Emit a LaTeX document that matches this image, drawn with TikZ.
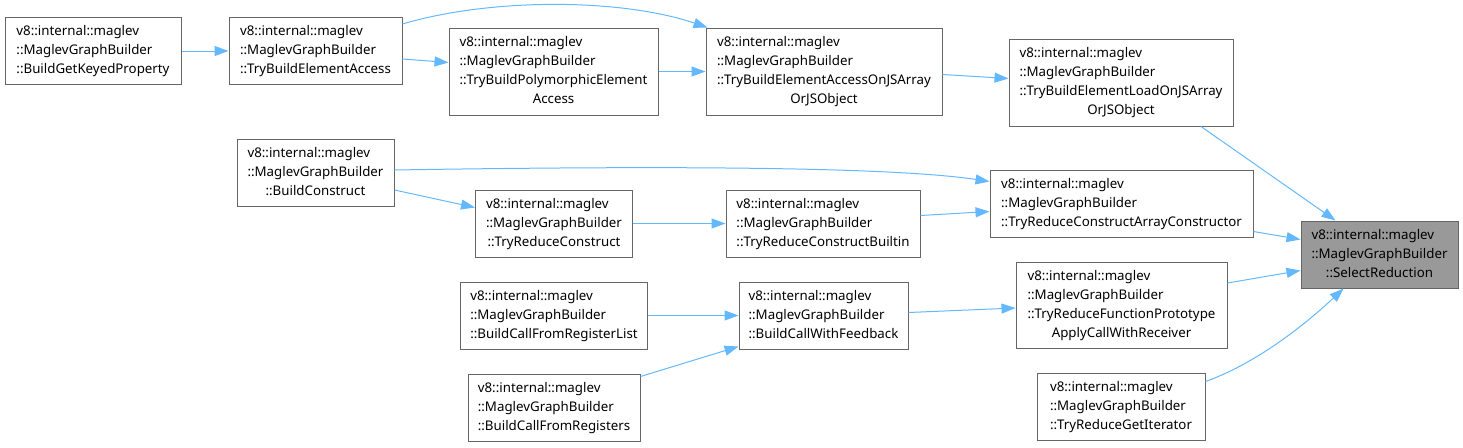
\documentclass[tikz,border=0pt]{standalone}
\usepackage{fontspec}
\setmainfont{Noto Sans}
\usepackage{tikz}
\usetikzlibrary{arrows.meta, calc}
\usepackage{xcolor}
\definecolor{DoxEdge}{HTML}{63B8FF}
\definecolor{DoxBorder}{HTML}{666666}
\definecolor{DoxFocus}{HTML}{999999}
\definecolor{DoxWhite}{HTML}{ffffff}
% left-aligned lines, last line centred
\newcommand{\fnlabel}[2]{\begin{tabular}{@{}l@{}}#1\\\multicolumn{1}{@{}c@{}}{#2}\end{tabular}}
\tikzset{
    % Node styles
    funcbox/.style={
        rectangle,
        draw=DoxBorder,
        fill=DoxWhite,
        line width=1pt,
        inner sep=0pt,
        minimum height=67,
        font=\fontsize{13.3}{19}\selectfont
    },
    focusbox/.style={
        funcbox,
        fill=DoxFocus
    },
    % Arrow styles
    callarrow/.style={
        draw=DoxEdge,
        line width=1pt,
        -{Triangle[length=14pt,width=10pt]}
    }
}

\begin{document}
\begin{tikzpicture}[x=1pt, y=-1pt]
    \useasboundingbox (0,0) rectangle (1463,447);

    % Element access chain
    \node[funcbox, minimum width=176] (getkeyed) at (93,51) {\fnlabel{v8::internal::maglev\\::MaglevGraphBuilder}{::BuildGetKeyedProperty}};
    \node[funcbox, minimum width=173] (elemaccess) at (315.5,51) {\fnlabel{v8::internal::maglev\\::MaglevGraphBuilder}{::TryBuildElementAccess}};
    \node[funcbox, minimum width=209, minimum height=87] (polyaccess) at (553.5,71.5) {\fnlabel{v8::internal::maglev\\::MaglevGraphBuilder\\::TryBuildPolymorphicElement}{Access}};
    \node[funcbox, minimum width=236, minimum height=87] (accessjs) at (824,71.5) {\fnlabel{v8::internal::maglev\\::MaglevGraphBuilder\\::TryBuildElementAccessOnJSArray}{OrJSObject}};
    \node[funcbox, minimum width=224, minimum height=87] (loadjs) at (1121,82.5) {\fnlabel{v8::internal::maglev\\::MaglevGraphBuilder\\::TryBuildElementLoadOnJSArray}{OrJSObject}};

    % Construct chain
    \node[funcbox, minimum width=157] (construct) at (315.5,173) {\fnlabel{v8::internal::maglev\\::MaglevGraphBuilder}{::BuildConstruct}};
    \node[funcbox, minimum width=157] (reduceconstruct) at (554,223.5) {\fnlabel{v8::internal::maglev\\::MaglevGraphBuilder}{::TryReduceConstruct}};
    \node[funcbox, minimum width=194] (constructbuiltin) at (823,223.5) {\fnlabel{v8::internal::maglev\\::MaglevGraphBuilder}{::TryReduceConstructBuiltin}};
    \node[funcbox, minimum width=263] (arrayctor) at (1121.5,203.5) {\fnlabel{v8::internal::maglev\\::MaglevGraphBuilder}{::TryReduceConstructArrayConstructor}};

    % Target
    \node[focusbox, minimum width=157] (selectred) at (1379.5,254.5) {\fnlabel{v8::internal::maglev\\::MaglevGraphBuilder}{::SelectReduction}};

    % Call chain
    \node[funcbox, minimum width=187] (reglist) at (554,315.5) {\fnlabel{v8::internal::maglev\\::MaglevGraphBuilder}{::BuildCallFromRegisterList}};
    \node[funcbox, minimum width=169] (callfeedback) at (823.5,315.5) {\fnlabel{v8::internal::maglev\\::MaglevGraphBuilder}{::BuildCallWithFeedback}};
    \node[funcbox, minimum width=211, minimum height=86] (applycall) at (1121.5,305) {\fnlabel{v8::internal::maglev\\::MaglevGraphBuilder\\::TryReduceFunctionPrototype}{ApplyCallWithReceiver}};
    \node[funcbox, minimum width=172] (registers) at (554,407.5) {\fnlabel{v8::internal::maglev\\::MaglevGraphBuilder}{::BuildCallFromRegisters}};
    \node[funcbox, minimum width=168] (getiterator) at (1121,406.5) {\fnlabel{v8::internal::maglev\\::MaglevGraphBuilder}{::TryReduceGetIterator}};

    % Edges
    \draw[callarrow] (getkeyed.east) -- (elemaccess.west);
    \draw[callarrow] ($(elemaccess.east)+(0,8)$) -- ($(polyaccess.west)+(0,-9)$);
    \draw[callarrow] ($(elemaccess.east)+(0,-27)$) .. controls (490,-2) and (620,-2) .. ($(accessjs.north west)+(2,0)$);
    \draw[callarrow] (polyaccess.east) -- (accessjs.west);
    \draw[callarrow] ($(accessjs.east)+(0,3)$) -- ($(loadjs.west)+(0,-4)$);
    \draw[callarrow] ($(loadjs.south)+(80,0)$) -- ($(selectred.north)+(-44,0)$);

    \draw[callarrow] ($(construct.east)+(0,-3)$) .. controls (700,165) and (900,168) .. ($(arrayctor.west)+(0,-22)$);
    \draw[callarrow] ($(construct.east)+(0,17)$) -- ($(reduceconstruct.west)+(0,-16)$);
    \draw[callarrow] (reduceconstruct.east) -- (constructbuiltin.west);
    \draw[callarrow] ($(constructbuiltin.east)+(0,-8)$) -- ($(arrayctor.west)+(0,8)$);
    \draw[callarrow] ($(arrayctor.east)+(0,28)$) -- ($(selectred.west)+(0,-15)$);

    \draw[callarrow] (reglist.east) -- (callfeedback.west);
    \draw[callarrow] ($(registers.east)+(0,-31)$) -- ($(callfeedback.south west)+(0,-3)$);
    \draw[callarrow] ($(callfeedback.east)+(0,-3)$) -- ($(applycall.west)+(0,3)$);
    \draw[callarrow] ($(applycall.east)+(0,-22)$) -- ($(selectred.west)+(0,16)$);
    \draw[callarrow] ($(getiterator.east)+(0,-25)$) .. controls (1260,362) and (1310,320) .. ($(selectred.south)+(-36,0)$);
\end{tikzpicture}
\end{document}
